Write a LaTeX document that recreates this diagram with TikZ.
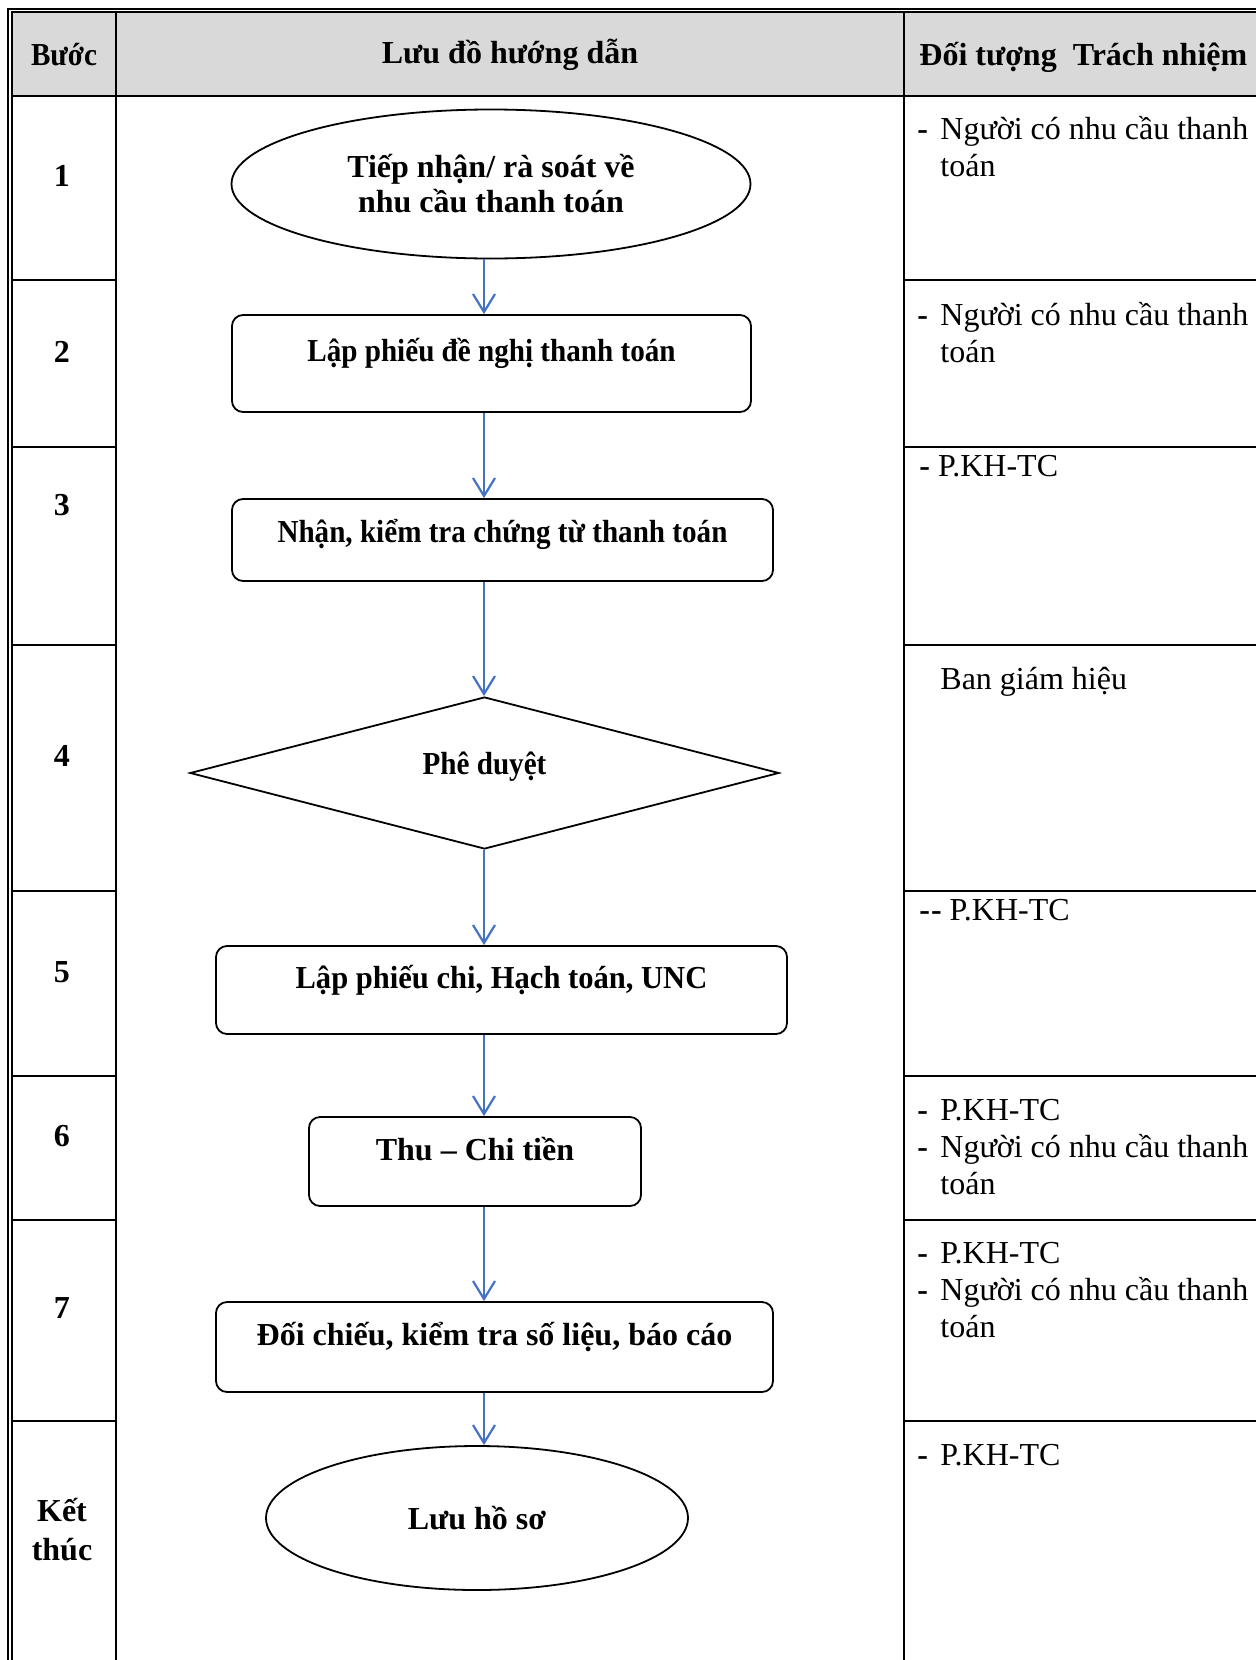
\documentclass[tikz,border=0pt]{standalone}
\usepackage{fontspec}
\setmainfont{Liberation Serif}
\usetikzlibrary{arrows.meta,positioning,shapes.geometric,calc}
\definecolor{qtHead}{HTML}{D9D9D9}
\definecolor{qtFlow}{HTML}{4472C4}
\newcommand{\headfont}{\fontsize{16}{18}\selectfont\bfseries}
\newcommand{\stepfont}{\fontsize{16}{17.5}\selectfont\bfseries}
\newcommand{\respfont}{\fontsize{16}{18.5}\selectfont\lineskiplimit=-20pt}
\newcommand{\respstrut}{\rule{0pt}{16pt}}
\newcommand{\respdash}{\makebox[11.5pt][l]{\textbf{-}}}
\newcommand{\tight}[2][0.91]{\scalebox{#1}[1]{#2}}
\tikzset{
  gridline/.style={line width=1pt},
  thinline/.style={line width=0.7pt},
  flowbox/.style={draw,line width=0.9pt,rounded corners=5.5pt,font=\stepfont,inner sep=0pt},
  flowoval/.style={draw,ellipse,line width=0.9pt,font=\stepfont,inner sep=0pt,align=center},
  flowdiam/.style={draw,diamond,aspect=3.9,line width=0.9pt,font=\stepfont,inner sep=0pt},
  flowarrow/.style={draw=qtFlow,line width=1.1pt,-{Straight Barb[length=9pt,width=11pt]}},
  stepno/.style={font=\stepfont,align=center,inner sep=0pt},
  resp/.style={anchor=north west,align=left,font=\respfont,inner sep=0pt},
}

\begin{document}
\begin{tikzpicture}[x=0.5pt,y=-0.5pt]
  \useasboundingbox (0,0) rectangle (1256,1660);

  % table frame
  \fill[qtHead] (12,12) rectangle (1256,96);
  \draw[thinline] (8,1660) -- (8,9) -- (1256,9);
  \draw[gridline] (12,1660) -- (12,12) -- (1256,12);
  \draw[gridline] (116,12) -- (116,1660);
  \draw[gridline] (904,12) -- (904,1660);
  \draw[gridline] (12,96) -- (1256,96);
  \foreach \y in {280,447,645,891,1076,1220,1421} {
    \draw[gridline] (12,\y) -- (116,\y);
    \draw[gridline] (904,\y) -- (1256,\y);
  }

  % headings
  \node[font=\headfont,inner sep=0pt] (hstep) at (64,55) {\tight{Bước}};
  \node[font=\headfont,inner sep=0pt] (hflow) at (510,55) {Lưu đồ hướng dẫn};
  \node[font=\headfont,inner sep=0pt,anchor=west] (hresp) at (919,57) {Đối tượng\ \ Trách nhiệm};

  % step numbers
  \node[stepno] (s1) at (62,176) {1};
  \node[stepno] (s2) at (62,352) {2};
  \node[stepno] (s3) at (62,505) {3};
  \node[stepno] (s4) at (62,756) {4};
  \node[stepno] (s5) at (62,972) {5};
  \node[stepno] (s6) at (62,1136) {6};
  \node[stepno] (s7) at (62,1308) {7};
  \node[stepno,font=\fontsize{16}{19.5}\selectfont\bfseries] (s8) at (62,1530) {Kết\\thúc};

  % flow chart
  \coordinate (ax) at (484,0);
  \node[flowoval,minimum width=259.5pt,minimum height=74.5pt] (e1) at (491,184) {Tiếp nhận/ rà soát về\\nhu cầu thanh toán};
  \node[flowbox,minimum width=259.5pt,minimum height=48.5pt,text depth=14pt] (r2) at (491.5,363.5) {\tight{Lập phiếu đề nghị thanh toán}};
  \node[flowbox,minimum width=270.5pt,minimum height=41pt,text depth=9pt] (r3) at (502.5,540) {\tight{Nhận, kiểm tra chứng từ thanh toán}};
  \node[flowdiam,minimum width=294.5pt,minimum height=76pt,text depth=10pt] (d4) at (484.5,773) {\tight{Phê duyệt}};
  \node[flowbox,minimum width=285.5pt,minimum height=44pt,text depth=13pt] (r5) at (501.5,990) {\tight[0.955]{Lập phiếu chi, Hạch toán, UNC}};
  \node[flowbox,minimum width=166pt,minimum height=44.5pt,text depth=13pt] (r6) at (475,1161.5) {Thu -- Chi tiền};
  \node[flowbox,minimum width=278.5pt,minimum height=45pt,text depth=13pt] (r7) at (494.5,1347) {Đối chiếu, kiểm tra số liệu, báo cáo};
  \node[flowoval,minimum width=211pt,minimum height=72pt] (e8) at (477,1518) {Lưu hồ sơ};

  \draw[flowarrow] (e1.south -| ax) -- (r2.north -| ax);
  \draw[flowarrow] (r2.south -| ax) -- (r3.north -| ax);
  \draw[flowarrow] (r3.south -| ax) -- (d4.north -| ax);
  \draw[flowarrow] (d4.south -| ax) -- (r5.north -| ax);
  \draw[flowarrow] (r5.south -| ax) -- (r6.north -| ax);
  \draw[flowarrow] (r6.south -| ax) -- (r7.north -| ax);
  \draw[flowarrow] (r7.south -| ax) -- (e8.north -| ax);

  % responsible parties (top = first baseline - 32)
  \node[resp] (p1) at (917,107) {\respstrut\respdash Người có nhu cầu thanh\\\hspace*{11.5pt}toán};
  \node[resp] (p2) at (917,293) {\respstrut\respdash Người có nhu cầu thanh\\\hspace*{11.5pt}toán};
  \node[resp] (p3) at (919,444) {\respstrut\textbf{-} P.KH-TC};
  \node[resp] (p4) at (940,657) {\respstrut Ban giám hiệu};
  \node[resp] (p5) at (919,888) {\respstrut\textbf{-\kern0.5pt-} P.KH-TC};
  \node[resp] (p6) at (917,1088) {\respstrut\respdash P.KH-TC\\\respdash Người có nhu cầu thanh\\\hspace*{11.5pt}toán};
  \node[resp] (p7) at (917,1231) {\respstrut\respdash P.KH-TC\\\respdash Người có nhu cầu thanh\\\hspace*{11.5pt}toán};
  \node[resp] (p8) at (917,1433) {\respstrut\respdash P.KH-TC};
\end{tikzpicture}
\end{document}
